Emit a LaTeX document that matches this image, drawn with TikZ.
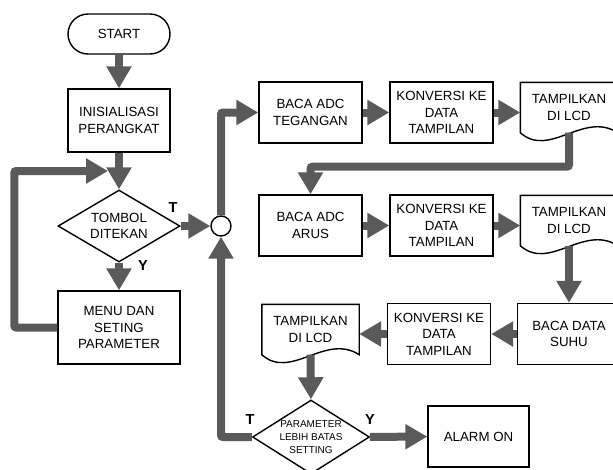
\documentclass[tikz,border=0pt]{standalone}
\usepackage{fontspec}
\setmainfont{Liberation Sans}
\usetikzlibrary{arrows.meta,calc,shapes.geometric}
\definecolor{flowgray}{HTML}{5A5A5A}

\begin{document}
\begin{tikzpicture}[y=-1pt,x=1pt,
	box/.style={draw, line width=1.4pt, fill=white, align=center, inner sep=0pt,
		minimum width=103pt, minimum height=61pt, font=\fontsize{13.3}{16.5}\selectfont},
	term/.style={box, rounded corners=20pt, minimum width=102pt, minimum height=40pt},
	doc/.style={box, draw=none, fill=none, minimum width=96pt, minimum height=49pt},
	docline/.style={line width=1.4pt, fill=white},
	dec/.style={box, diamond, aspect=1.7, minimum width=122pt, minimum height=72pt},
	sumc/.style={draw, circle, line width=1.4pt, fill=white, minimum size=20pt, inner sep=0pt},
	flow/.style={line width=8pt, draw=flowgray, rounded corners=2pt,
		-{Triangle[length=22pt,width=24pt]}},
	lbl/.style={font=\fontsize{14.5}{16}\selectfont\bfseries, inner sep=0pt}]
	\newcommand\Doc[1]{\draw[docline] (#1.south west) -- (#1.north west) -- (#1.north east) -- (#1.south east)
		.. controls ($(#1.south west)!0.65!(#1.south east)+(0,-22)$) and ($(#1.south west)!0.3!(#1.south east)+(0,26)$) .. (#1.south west) -- cycle;}

	\path[use as bounding box] (0,0) rectangle (613,469);
	\clip (0,0) rectangle (613,469);

	% left column
	\node[term] (start) at (119,34) {START};
	\node[box, minimum width=102pt, minimum height=63pt] (init) at (119,120.5) {INISIALISASI\\PERANGKAT};
	\node[dec] (tombol) at (119,226) {TOMBOL\\DITEKAN};
	\node[box, minimum width=122pt, minimum height=73pt] (menu) at (119,327.5) {MENU DAN\\SETING\\PARAMETER};
	\node[sumc] (sum) at (221,226) {};
	\coordinate (back) at (108,171);

	% row 1
	\node[box] (adc1) at (310.5,112.5) {BACA ADC\\TEGANGAN};
	\node[box] (kon1) at (441.5,112.5) {KONVERSI KE\\DATA\\TAMPILAN};
	\node[doc] (lcd1) at (569,107.5) {};
	\Doc{lcd1}
	\node[doc] at (lcd1) {TAMPILKAN\\DI LCD};

	% row 2
	\node[box] (arus) at (310.5,225.5) {BACA ADC\\ARUS};
	\node[box] (kon2) at (441.5,225.5) {KONVERSI KE\\DATA\\TAMPILAN};
	\node[doc] (lcd2) at (569,220.5) {};
	\Doc{lcd2}
	\node[doc] at (lcd2) {TAMPILKAN\\DI LCD};

	% row 3
	\node[box] (suhu) at (569,334) {BACA DATA\\SUHU};
	\node[box] (kon3) at (439,334) {KONVERSI KE\\DATA\\TAMPILAN};
	\node[doc] (lcd3) at (310.5,329.5) {};
	\Doc{lcd3}
	\node[doc] at (lcd3) {TAMPILKAN\\DI LCD};

	\node[dec, aspect=1.57, minimum width=117pt, minimum height=74pt,
		font=\fontsize{10}{13}\selectfont] (param) at (311,437) {PARAMETER\\LEBIH BATAS\\SETTING};
	\node[box, minimum width=101pt] (alarm) at (478.5,436.5) {ALARM ON};

	% labels
	\node[lbl] (t1) at (173,208) {T};
	\node[lbl] (y1) at (143,266) {Y};
	\node[lbl] (t2) at (250,420) {T};
	\node[lbl] (y2) at (370,420) {Y};

	% connectors
	\draw[flow] (start) -- (init);
	\draw[flow] (init) -- (tombol);
	\draw[flow] (tombol) -- (menu);
	\draw[flow] (tombol) -- (sum);
	\draw[flow] (menu.west) -- ++(-43,0) |- (back);
	\draw[flow] (sum) |- (adc1);
	\draw[flow] (adc1) -- (kon1);
	\draw[flow] (kon1.east) -- (kon1.east -| lcd1.west);
	\draw[flow] (lcd1.south) -- ++(0,34) -| (arus.north);
	\draw[flow] (arus) -- (kon2);
	\draw[flow] (kon2.east) -- (kon2.east -| lcd2.west);
	\draw[flow] (lcd2.south) -- (suhu.north);
	\draw[flow] (suhu) -- (kon3);
	\draw[flow] (kon3.west) -- (kon3.west -| lcd3.east);
	\draw[flow] (lcd3.south) -- (param.north);
	\draw[flow] (param) -- (alarm);
	\draw[flow] (param.west) -| (sum.south);
\end{tikzpicture}
\end{document}
